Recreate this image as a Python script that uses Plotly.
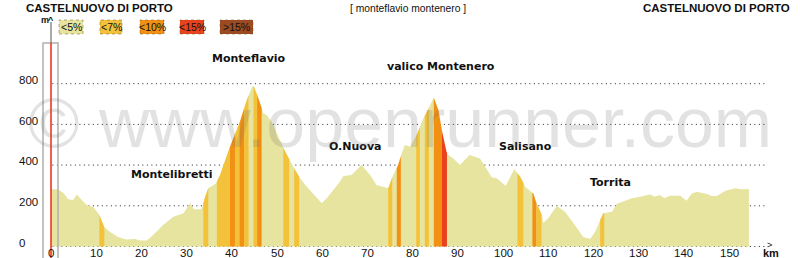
import numpy as np
import plotly.graph_objects as go

# ---------------- data ----------------
km = [0, 1.5, 2.7, 3.8, 4.9, 5.7, 6.8, 7.9, 9.4, 10.7, 11.7, 13.0, 14.9, 16.7, 18.6, 19.7,
      21.2, 22.6, 24.8, 27.1, 29.3, 30.8, 31.6, 33.0, 33.4, 34.1, 34.8, 36.5, 37.4, 39.6,
      41.8, 43.3, 44.5, 44.8, 45.9, 47.0, 47.7, 48.8, 50.3, 51.8, 53.6, 55.1, 56.6, 58.0,
      59.9, 61.0, 62.5, 63.9, 64.7, 66.5, 68.7, 70.6, 72.0, 74.6, 75.4, 76.8, 77.6, 78.3,
      79.4, 80.9, 82.4, 83.8, 84.7, 85.7, 86.6, 87.5, 87.9, 89.0, 90.5, 92.6, 94.9, 95.8,
      97.5, 98.6, 100.6, 102.5, 103.8, 104.9, 106.7, 107.4, 108.6, 108.9, 110.0, 111.9,
      113.7, 115.6, 117.8, 119.3, 120.4, 121.5, 122.2, 124.1, 125.2, 127.0, 128.5, 130.3,
      132.5, 133.6, 134.7, 135.7, 136.9, 139.2, 140.6, 141.8, 142.9, 145.1, 146.2, 147.3,
      149.2, 151.4, 152.5, 154.4]
elev = [281, 281, 264, 232, 228, 256, 228, 204, 193, 155, 97, 73, 45, 35, 37, 29,
        29, 57, 106, 146, 163, 212, 183, 183, 188, 245, 286, 310, 351, 490,
        613, 720, 785, 790, 728, 654, 646, 613, 540, 466, 392, 335, 294, 261,
        212, 237, 278, 318, 346, 351, 400, 351, 302, 286, 335, 400, 458, 499,
        490, 548, 630, 687, 731, 671, 556, 466, 450, 433, 400, 450, 433, 400,
        340, 335, 298, 379, 343, 294, 261, 212, 155, 114, 139, 199,
        171, 114, 45, 38, 73, 130, 163, 171, 210, 225, 237, 245,
        256, 245, 253, 237, 250, 250, 225, 261, 269, 258, 248, 248,
        274, 286, 281, 283]

seg_start = [10.7, 33.7, 36.7, 39.6, 40.7, 41.7, 42.7, 44.8, 45.6, 51.4, 53.8, 74.6, 76.5,
             80.8, 82.7, 84.7, 86.5, 103.2, 106.5, 107.4, 121.5]
seg_end = [11.8, 34.8, 39.6, 40.7, 41.7, 42.7, 43.7, 45.6, 46.6, 52.7, 54.9, 75.5, 77.4,
           81.6, 83.6, 86.5, 87.6, 104.5, 107.4, 108.5, 122.4]
seg_class = ["<7%", "<7%", "<7%", "<10%", "<7%", "<10%", "<7%", "<7%", "<10%", "<7%", "<7%",
             "<7%", "<10%", "<7%", "<7%", "<10%", "<15%", "<7%", "<10%", "<7%", "<7%"]

classes = ["<5%", "<7%", "<10%", "<15%", ">15%"]
class_colors = ["#E6E49E", "#F4C23A", "#F29014", "#EA421C", "#9C4A22"]

y_ticks = [0, 200, 400, 600, 800]
x_ticks = list(range(0, 151, 10))

places = ["Monteflavio", "valico Montenero", "O.Nuova", "Montelibretti", "Salisano", "Torrita"]
place_km = [43.8, 86.2, 67.3, 26.8, 104.9, 123.7]
place_elev = [926, 885, 490, 352, 490, 313]

# ---------------- figure ----------------
W, H = 800, 258
PX_KM = 4.52
X0 = 51
Y0 = 246.5
PX_M = 0.2035
xr = [-X0 / PX_KM, (W - X0) / PX_KM]
yr = [(Y0 - H) / PX_M, Y0 / PX_M]

fig = go.Figure()
color_of = dict(zip(classes, class_colors))

# dotted grid lines
for v in y_ticks:
    fig.add_trace(go.Scatter(x=[0.3, 158.3], y=[v, v], mode="lines",
                             line=dict(color="#222", width=1, dash="1px,3.5px"),
                             hoverinfo="skip", showlegend=False))

# base profile
fig.add_trace(go.Scatter(x=km, y=elev, mode="lines", fill="tozeroy",
                         fillcolor=color_of["<5%"], line=dict(width=0, color=color_of["<5%"]),
                         hoverinfo="skip", showlegend=False))

kma = np.array(km)
ela = np.array(elev)
for s, e, c in zip(seg_start, seg_end, seg_class):
    inner = kma[(kma > s) & (kma < e)]
    xs = np.concatenate([[s], inner, [e]])
    ys = np.interp(xs, kma, ela)
    fig.add_trace(go.Scatter(x=xs, y=ys, mode="lines", fill="tozeroy",
                             fillcolor=color_of[c], line=dict(width=0, color=color_of[c]),
                             hoverinfo="skip", showlegend=False))

shapes = []
ann = []


def txt(x, y, text, size, xref="paper", yref="paper", xanchor="center", family="Liberation Sans",
        color="#111"):
    ann.append(dict(x=x, y=y, xref=xref, yref=yref, text=text, showarrow=False,
                    xanchor=xanchor, yanchor="middle",
                    font=dict(family=family, size=size, color=color)))


# grey box and red line at start
shapes.append(dict(type="rect", xref="x", yref="paper", x0=(43 - X0) / PX_KM, x1=(58 - X0) / PX_KM,
                   y0=-0.01, y1=1 - 43 / H, line=dict(color="#B0B0B0", width=1.5)))
shapes.append(dict(type="line", xref="x", yref="paper", x0=0, x1=0, y0=0, y1=1 - 43 / H,
                   line=dict(color="#EE2A10", width=1.5)))
shapes.append(dict(type="line", xref="x", yref="paper", x0=0, x1=0, y0=1 - 43 / H, y1=1 - 22 / H,
                   line=dict(color="#707070", width=1.2)))

# legend boxes
leg_x0 = [59, 100, 140, 180, 220]
leg_x1 = [83, 122, 164, 204, 253]
for c, col, a, b in zip(classes, class_colors, leg_x0, leg_x1):
    shapes.append(dict(type="rect", xref="paper", yref="paper", x0=a / W, x1=b / W,
                       y0=1 - 34 / H, y1=1 - 20 / H, fillcolor=col,
                       line=dict(color="rgba(120,90,30,0.5)", width=1, dash="dot")))
    txt((a + b) / 2 / W, 1 - 27.5 / H, c, 10.5)

# titles
txt(24 / W, 1 - 8 / H, "<b>CASTELNUOVO DI PORTO</b>", 11.5, xanchor="left")
txt(792 / W, 1 - 8 / H, "<b>CASTELNUOVO DI PORTO</b>", 11.5, xanchor="right")
txt(408 / W, 1 - 8 / H, "[ monteflavio montenero ]", 10.3)

# axis marks
txt(45 / W, 1 - 20 / H, "<b>m</b>", 9)
txt(51 / W, 1 - 20 / H, "<b>^</b>", 9)
txt(769 / W, 1 - 245 / H, ">", 9)
txt(771 / W, 1 - 253 / H, "<b>km</b>", 11)

# tick labels
for v in y_ticks:
    txt(17 / W, v + 19, str(v), 11.5, yref="y", xanchor="left")
for v in x_ticks:
    txt(v, -(253 - Y0) / PX_M, str(v), 11.5, xref="x", yref="y")

# place names
for p, xk, ye in zip(places, place_km, place_elev):
    txt(xk, ye, "<b>" + p + "</b>", 11, xref="x", yref="y", family="DejaVu Sans")

# watermark
txt(400 / W, 1 - 123 / H, "\u00a9 www.openrunner.com", 70, color="rgba(110,110,110,0.2)")

fig.update_layout(
    width=W, height=H, margin=dict(l=0, r=0, t=0, b=0),
    paper_bgcolor="white", plot_bgcolor="white",
    xaxis=dict(range=xr, visible=False, fixedrange=True),
    yaxis=dict(range=yr, visible=False, fixedrange=True),
    shapes=shapes, annotations=ann, showlegend=False,
)

fig.write_html("out.html")
